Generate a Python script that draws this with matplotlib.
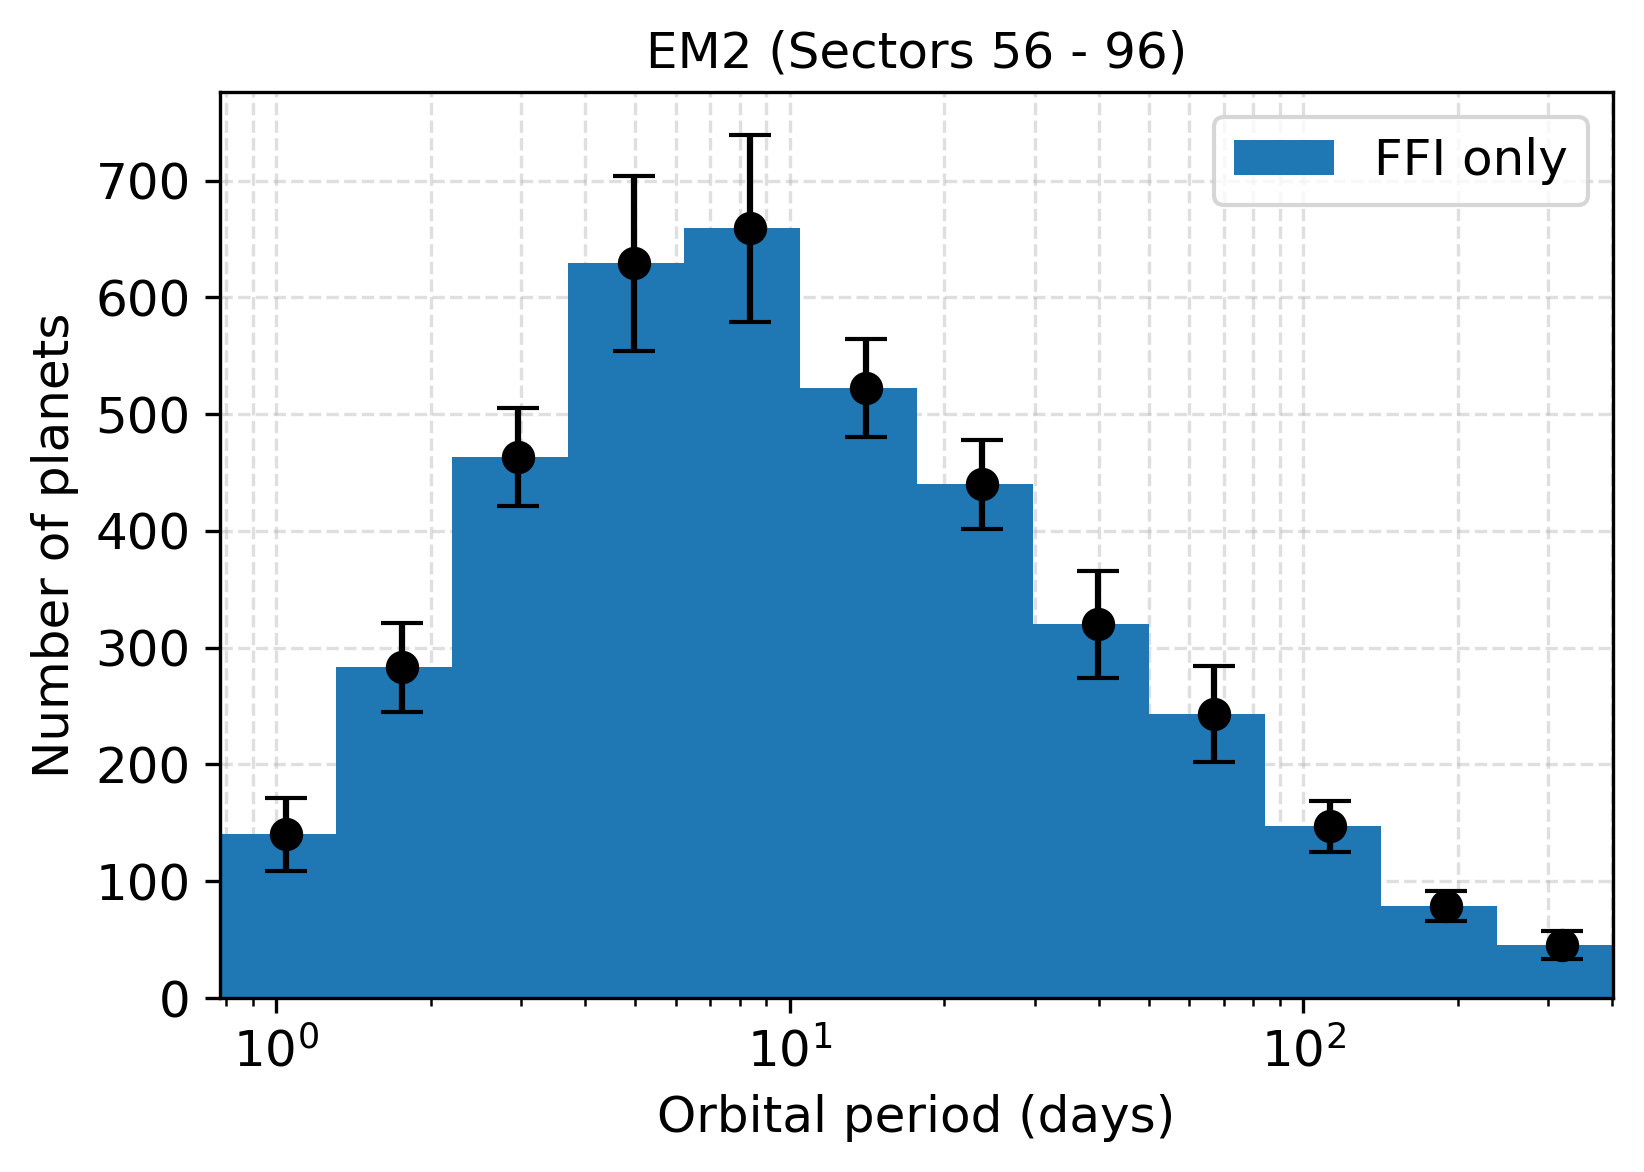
"""Orbital period histogram for EM2 (FFI only) with error bars."""
import numpy as np
import matplotlib
matplotlib.use("Agg")
import matplotlib.pyplot as plt

# bin edges in days (log-spaced)
edges = [0.777, 1.308, 2.201, 3.705, 6.234, 10.49, 17.66,
         29.71, 50.0, 84.1, 141.6, 238.2, 400.9]
counts = [140, 283, 463, 629, 659, 522, 440, 320, 243, 147, 79, 45]
errors = [31.5, 38.5, 42, 75, 80, 42, 38, 46, 41, 22, 13, 12]

title = "EM2 (Sectors 56 - 96)"
label = "FFI only"

plt.rcParams["font.size"] = 12

edges = np.array(edges)
centers = (edges[:-1] + edges[1:]) / 2

fig = plt.figure(figsize=(5.48, 3.907), dpi=300)
ax = fig.add_axes([0.1338, 0.1485, 0.8473, 0.773])

ax.bar(edges[:-1], counts, width=np.diff(edges), align="edge",
       color="tab:blue", label=label)
ax.errorbar(centers, counts, yerr=errors, fmt="o", color="k",
            ms=7, capsize=5)

ax.set_xscale("log")
ax.set_xlim(edges[0], edges[-1])
ax.set_ylim(0, None)
ax.set_axisbelow(True)
ax.grid(True, which="both", ls="--", alpha=0.4)

ax.set_xlabel("Orbital period (days)")
ax.set_ylabel("Number of planets")
ax.set_title(title, fontsize=12)
ax.legend(loc="upper right")

fig.savefig("out.png", dpi=300)
